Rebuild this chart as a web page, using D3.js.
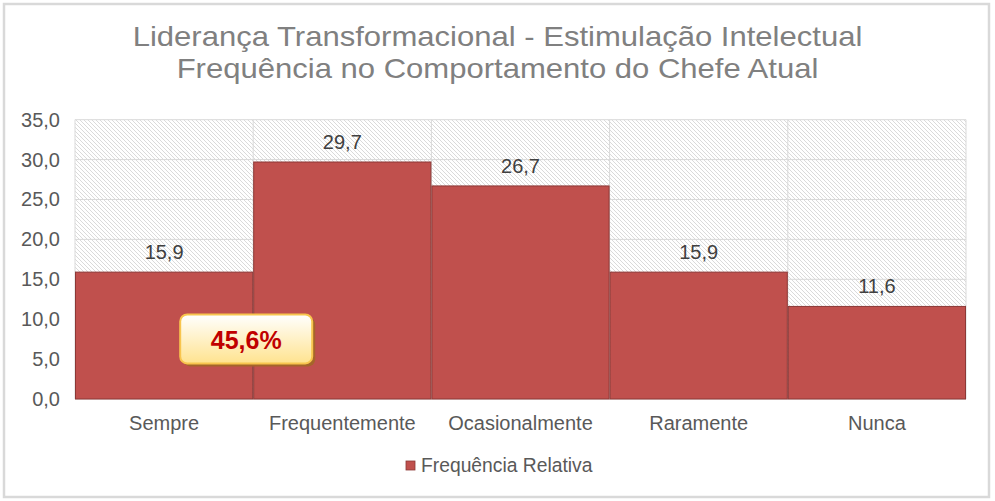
<!DOCTYPE html>
<html>
<head>
<meta charset="utf-8">
<script src="https://cdn.jsdelivr.net/npm/d3@7"></script>
<style>
  html, body { margin: 0; padding: 0; background: #fff; }
  svg { display: block; }
  text { font-family: "Liberation Sans", Arial, sans-serif; }
</style>
</head>
<body>
<svg id="chart" width="995" height="501"></svg>
<script>
const titleLines = ["Liderança Transformacional - Estimulação Intelectual", "Frequência no Comportamento do Chefe Atual"];
const categories = ["Sempre", "Frequentemente", "Ocasionalmente", "Raramente", "Nunca"];
const values = [15.9, 29.7, 26.7, 15.9, 11.6];
const yTicks = [0, 5, 10, 15, 20, 25, 30, 35];
const seriesName = "Frequência Relativa";
const calloutCategories = ["Sempre", "Frequentemente"];

const fmt1 = v => d3.format(".1f")(v).replace(".", ",");

const svg = d3.select("#chart");
const W = 995, H = 501;
const m = { left: 75, right: 29, top: 119.7, bottom: 102 };

// outer frame
svg.append("rect").attr("x", 4).attr("y", 4).attr("width", 985).attr("height", 493)
  .attr("fill", "#fff").attr("stroke", "#d9d9d9").attr("stroke-width", 2.5);

// hatch pattern
const defs = svg.append("defs");
const pat = defs.append("pattern").attr("id", "hatch").attr("patternUnits", "userSpaceOnUse")
  .attr("width", 4).attr("height", 4);
pat.append("path").attr("d", "M-1,-1 L5,5 M-1,3 L1,5 M3,-1 L5,1")
  .attr("stroke", "#dadada").attr("stroke-width", 1).attr("fill", "none");

const grad = defs.append("linearGradient").attr("id", "callGrad").attr("x1", 0).attr("y1", 0).attr("x2", 0).attr("y2", 1);
grad.append("stop").attr("offset", "0%").attr("stop-color", "#ffffff");
grad.append("stop").attr("offset", "100%").attr("stop-color", "#ffe38f");

const x = d3.scaleBand().domain(categories).range([m.left, W - m.right]).padding(0);
const y = d3.scaleLinear().domain([0, 35]).range([H - m.bottom, m.top]);

// plot background
svg.append("rect").attr("x", x.range()[0]).attr("y", y(35))
  .attr("width", x.range()[1] - x.range()[0]).attr("height", y(0) - y(35))
  .attr("fill", "url(#hatch)");

// horizontal gridlines
svg.append("g").selectAll("line").data(yTicks).join("line")
  .attr("x1", x.range()[0]).attr("x2", x.range()[1])
  .attr("y1", d => y(d)).attr("y2", d => y(d))
  .attr("stroke", "#d9d9d9").attr("stroke-width", 1);

// vertical gridlines at category boundaries
const bounds = categories.map(c => x(c)).concat([x.range()[1]]);
svg.append("g").selectAll("line").data(bounds).join("line")
  .attr("x1", d => d).attr("x2", d => d)
  .attr("y1", y(35)).attr("y2", y(0))
  .attr("stroke", "#d9d9d9").attr("stroke-width", 1);

// bars
svg.append("g").selectAll("rect").data(values).join("rect")
  .attr("x", (d, i) => x(categories[i]) + 0.5)
  .attr("y", d => y(d))
  .attr("width", x.bandwidth() - 1)
  .attr("height", d => y(0) - y(d))
  .attr("fill", "#c0504d").attr("stroke", "#8c3836").attr("stroke-width", 1);

// data labels
svg.append("g").selectAll("text").data(values).join("text")
  .attr("x", (d, i) => x(categories[i]) + x.bandwidth() / 2)
  .attr("y", d => y(d) - 13)
  .attr("text-anchor", "middle")
  .attr("font-size", 20).attr("fill", "#404040")
  .text(d => fmt1(d));

// y axis
const yAxis = d3.axisLeft(y).tickValues(yTicks).tickFormat(fmt1).tickSize(0).tickPadding(15);
const ga = svg.append("g").attr("transform", `translate(${m.left},0)`).call(yAxis);
ga.select(".domain").remove();
ga.selectAll("text").attr("font-size", 20).attr("fill", "#595959")
  .attr("font-family", '"Liberation Sans", Arial, sans-serif');

// x axis
const xAxis = d3.axisBottom(x).tickSize(0).tickPadding(17);
const gx = svg.append("g").attr("transform", `translate(0,${y(0)})`).call(xAxis);
gx.select(".domain").remove();
gx.selectAll("text").attr("font-size", 20).attr("fill", "#595959")
  .attr("font-family", '"Liberation Sans", Arial, sans-serif');

// title
svg.append("g").selectAll("text").data(titleLines).join("text")
  .attr("transform", (d, i) => `translate(${W / 2},${46 + i * 32}) scale(1.15,1)`)
  .attr("text-anchor", "middle").attr("font-size", 27).attr("fill", "#808080")
  .text(d => d);

// legend
const lg = svg.append("g").attr("transform", "translate(406,461)");
lg.append("rect").attr("width", 9).attr("height", 9).attr("fill", "#c0504d").attr("stroke", "#8c3836").attr("stroke-width", 0.8);
lg.append("text").attr("x", 15).attr("y", 10.5).attr("font-size", 19.3).attr("fill", "#595959").text(seriesName);

// callout
const sumVal = d3.sum(calloutCategories.map(c => values[categories.indexOf(c)]));
const cx = x(calloutCategories[1]) - 7;
const bw = 132, bh = 49;
const bx = cx - bw / 2, by = y(10.6);
svg.append("rect").attr("x", bx + 3).attr("y", by + 3).attr("width", bw).attr("height", bh)
  .attr("rx", 7).attr("fill", "#a5652a");
svg.append("rect").attr("x", bx).attr("y", by).attr("width", bw).attr("height", bh)
  .attr("rx", 7).attr("fill", "url(#callGrad)").attr("stroke", "#f8c54e").attr("stroke-width", 2);
svg.append("text").attr("x", cx).attr("y", by + 35).attr("text-anchor", "middle")
  .attr("font-size", 25).attr("font-weight", "bold").attr("fill", "#c00000")
  .text(fmt1(sumVal) + "%");
</script>
</body>
</html>
